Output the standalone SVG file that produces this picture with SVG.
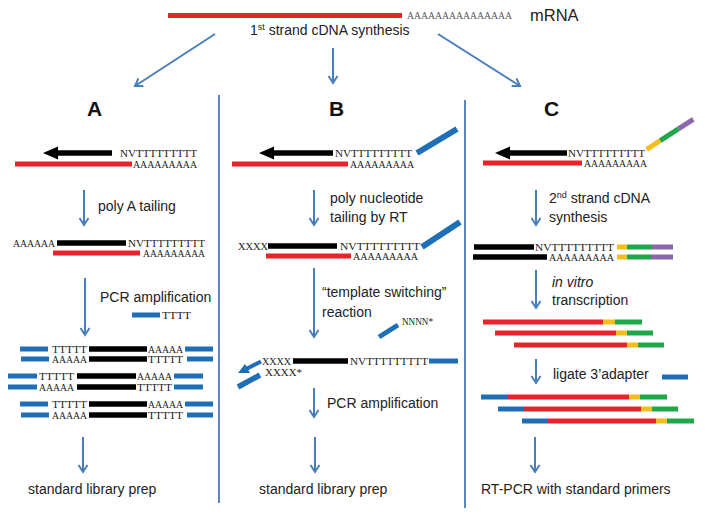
<svg xmlns="http://www.w3.org/2000/svg" width="705" height="520" viewBox="0 0 705 520">
<defs>
<style>
.seq{font-family:"Liberation Serif","Times New Roman",serif;font-size:10.5px;fill:#222}
.lbl{font-family:"Liberation Sans",Arial,sans-serif;font-size:14px;fill:#222}
.hd{font-family:"Liberation Sans",Arial,sans-serif;font-size:21px;font-weight:bold;fill:#111}
.r{stroke:#E8232A;stroke-width:5}
.k{stroke:#000;stroke-width:5.5}
.b{stroke:#1F6FB6;stroke-width:5}
.y{stroke:#F4BE1C;stroke-width:5}
.g{stroke:#1EA84A;stroke-width:5}
.p{stroke:#8A67AD;stroke-width:5}
.arr{stroke:#4A7EBB;stroke-width:2;fill:none;marker-end:url(#ah)}
.div{stroke:#5B86C0;stroke-width:2}
</style>
<marker id="ah" markerUnits="userSpaceOnUse" markerWidth="14" markerHeight="14" refX="8" refY="6" orient="auto">
<path d="M1,1.5 L8,6 L1,10.5" fill="none" stroke="#4A7EBB" stroke-width="2"/>
</marker>
</defs>
<rect width="705" height="520" fill="#fff"/>

<g id="mrna">
<line class="r" x1="168" y1="15.5" x2="402" y2="15.5"/>
<text class="seq" x="407" y="19" textLength="105" lengthAdjust="spacingAndGlyphs" style="fill:#555">AAAAAAAAAAAAAAA</text>
<text class="lbl" x="530" y="21" style="font-size:16.5px">mRNA</text>
<text class="lbl" x="250" y="35">1<tspan font-size="9" dy="-5">st</tspan><tspan dy="5"> strand cDNA synthesis</tspan></text>
</g>

<g id="connectors">
<line class="arr" x1="215" y1="34" x2="135" y2="86"/>
<line class="arr" x1="333" y1="48" x2="333" y2="83"/>
<line class="arr" x1="438" y1="34" x2="520" y2="86"/>
<line class="arr" x1="84" y1="190" x2="84" y2="225"/>
<line class="arr" x1="85" y1="278" x2="85" y2="335"/>
<line class="arr" x1="83" y1="437" x2="83" y2="472"/>
<line class="arr" x1="314" y1="190" x2="314" y2="225"/>
<line class="arr" x1="314" y1="268" x2="314" y2="337"/>
<line class="arr" x1="314" y1="388" x2="314" y2="417"/>
<line class="arr" x1="315" y1="437" x2="315" y2="472"/>
<line class="arr" x1="536" y1="190" x2="536" y2="225"/>
<line class="arr" x1="536" y1="270" x2="536" y2="308"/>
<line class="arr" x1="536" y1="359" x2="536" y2="383"/>
<line class="arr" x1="535" y1="437" x2="535" y2="472"/>
</g>

<g id="dividers">
<line class="div" x1="219" y1="95" x2="219" y2="503"/>
<line class="div" x1="465" y1="100" x2="465" y2="508"/>
</g>

<g id="panel-A">
<text class="hd" x="87" y="116">A</text>
<line class="k" x1="57" y1="153" x2="112" y2="153"/>
<polygon points="43,153 58,146.5 58,159.5" fill="#000"/>
<text class="seq" x="120" y="157" textLength="77" lengthAdjust="spacingAndGlyphs">NVTTTTTTTTT</text>
<line class="r" x1="15" y1="164" x2="132" y2="164"/>
<text class="seq" x="133" y="167.5" textLength="64" lengthAdjust="spacingAndGlyphs">AAAAAAAAA</text>
<text class="lbl" x="98" y="211">poly A tailing</text>
<text class="seq" x="13" y="246.5" textLength="42" lengthAdjust="spacingAndGlyphs">AAAAAA</text>
<line class="k" x1="57" y1="243" x2="126" y2="243"/>
<text class="seq" x="128" y="246.5" textLength="77" lengthAdjust="spacingAndGlyphs">NVTTTTTTTTT</text>
<line class="r" x1="53" y1="253" x2="140" y2="253"/>
<text class="seq" x="143" y="256.5" textLength="62" lengthAdjust="spacingAndGlyphs">AAAAAAAAA</text>
<text class="lbl" x="100" y="302">PCR amplification</text>
<line class="b" x1="132" y1="315" x2="160" y2="315"/>
<text class="seq" x="162" y="318.5" textLength="29" lengthAdjust="spacingAndGlyphs">TTTT</text>
<g id="A-pair1">
<line class="b" x1="20" y1="349" x2="48" y2="349"/><text class="seq" x="52" y="352.5" textLength="35" lengthAdjust="spacingAndGlyphs">TTTTT</text><line class="k" x1="89" y1="349" x2="147" y2="349"/><text class="seq" x="148" y="352.5" textLength="35" lengthAdjust="spacingAndGlyphs">AAAAA</text><line class="b" x1="185" y1="349" x2="213" y2="349"/>
<line class="b" x1="21" y1="359" x2="49" y2="359"/><text class="seq" x="52" y="362.5" textLength="35" lengthAdjust="spacingAndGlyphs">AAAAA</text><line class="k" x1="89" y1="359" x2="147" y2="359"/><text class="seq" x="148" y="362.5" textLength="35" lengthAdjust="spacingAndGlyphs">TTTTT</text><line class="b" x1="187" y1="359" x2="213" y2="359"/>
</g>
<g id="A-pair2">
<line class="b" x1="8" y1="376" x2="37" y2="376"/><text class="seq" x="39" y="379.5" textLength="35" lengthAdjust="spacingAndGlyphs">TTTTT</text><line class="k" x1="77" y1="376" x2="136" y2="376"/><text class="seq" x="137" y="379.5" textLength="35" lengthAdjust="spacingAndGlyphs">AAAAA</text><line class="b" x1="174" y1="376" x2="203" y2="376"/>
<line class="b" x1="8" y1="387" x2="37" y2="387"/><text class="seq" x="39" y="390.5" textLength="35" lengthAdjust="spacingAndGlyphs">AAAAA</text><line class="k" x1="77" y1="387" x2="136" y2="387"/><text class="seq" x="137" y="390.5" textLength="35" lengthAdjust="spacingAndGlyphs">TTTTT</text><line class="b" x1="174" y1="387" x2="203" y2="387"/>
</g>
<g id="A-pair3">
<line class="b" x1="20" y1="404" x2="48" y2="404"/><text class="seq" x="52" y="407.5" textLength="35" lengthAdjust="spacingAndGlyphs">TTTTT</text><line class="k" x1="89" y1="404" x2="147" y2="404"/><text class="seq" x="148" y="407.5" textLength="35" lengthAdjust="spacingAndGlyphs">AAAAA</text><line class="b" x1="185" y1="404" x2="213" y2="404"/>
<line class="b" x1="21" y1="415" x2="49" y2="415"/><text class="seq" x="52" y="418.5" textLength="35" lengthAdjust="spacingAndGlyphs">AAAAA</text><line class="k" x1="89" y1="415" x2="147" y2="415"/><text class="seq" x="148" y="418.5" textLength="35" lengthAdjust="spacingAndGlyphs">TTTTT</text><line class="b" x1="187" y1="415" x2="213" y2="415"/>
</g>
<text class="lbl" x="28" y="494">standard library prep</text>
</g>

<g id="panel-B">
<text class="hd" x="329" y="116">B</text>
<line class="k" x1="273" y1="153" x2="333" y2="153"/>
<polygon points="259,153 274,146.5 274,159.5" fill="#000"/>
<text class="seq" x="335" y="157" textLength="77" lengthAdjust="spacingAndGlyphs">NVTTTTTTTTT</text>
<line class="b" x1="417" y1="153" x2="457" y2="129" style="stroke-width:6"/>
<line class="r" x1="232" y1="164" x2="348" y2="164"/>
<text class="seq" x="350" y="167.5" textLength="64" lengthAdjust="spacingAndGlyphs">AAAAAAAAA</text>
<text class="lbl" x="330" y="203">poly nucleotide</text>
<text class="lbl" x="330" y="222">tailing by RT</text>
<text class="seq" x="238" y="250" textLength="30" lengthAdjust="spacingAndGlyphs">XXXX</text>
<line class="k" x1="268" y1="246" x2="337" y2="246"/>
<text class="seq" x="340" y="250" textLength="80" lengthAdjust="spacingAndGlyphs">NVTTTTTTTTT</text>
<line class="b" x1="422" y1="247" x2="460" y2="222" style="stroke-width:6"/>
<line class="r" x1="266" y1="256" x2="351" y2="256"/>
<text class="seq" x="353" y="259.5" textLength="65" lengthAdjust="spacingAndGlyphs">AAAAAAAAA</text>
<text class="lbl" x="322" y="297">“template switching”</text>
<text class="lbl" x="322" y="317">reaction</text>
<line class="b" x1="379" y1="337" x2="398" y2="325"/>
<text class="seq" x="402" y="325" textLength="31" lengthAdjust="spacingAndGlyphs">NNNN*</text>
<text class="seq" x="262" y="364.5" textLength="29" lengthAdjust="spacingAndGlyphs">XXXX</text>
<line class="k" x1="293" y1="361" x2="348" y2="361"/>
<text class="seq" x="350" y="364.5" textLength="78" lengthAdjust="spacingAndGlyphs">NVTTTTTTTTT</text>
<line class="b" x1="429" y1="361" x2="458" y2="361"/>
<line class="b" x1="261" y1="361.5" x2="246" y2="369" style="stroke-width:4"/>
<polygon points="238,373 245,364 250,373" fill="#1F6FB6"/>
<text class="seq" x="265" y="376" textLength="37" lengthAdjust="spacingAndGlyphs">XXXX*</text>
<line class="b" x1="238" y1="387" x2="260" y2="375" style="stroke-width:5.5"/>
<text class="lbl" x="327" y="408">PCR amplification</text>
<text class="lbl" x="259" y="494">standard library prep</text>
</g>

<g id="panel-C">
<text class="hd" x="544" y="116">C</text>
<line class="k" x1="509" y1="153" x2="567" y2="153"/>
<polygon points="495,153 510,146.5 510,159.5" fill="#000"/>
<text class="seq" x="568" y="157" textLength="77" lengthAdjust="spacingAndGlyphs">NVTTTTTTTTT</text>
<line class="y" x1="646.7" y1="149.3" x2="660.2" y2="140.6"/>
<line class="g" x1="660.2" y1="140.6" x2="678.4" y2="128.9"/>
<line class="p" x1="678.4" y1="128.9" x2="693.3" y2="119.3"/>
<line class="r" x1="483" y1="163" x2="582" y2="163"/>
<text class="seq" x="584" y="166.5" textLength="63" lengthAdjust="spacingAndGlyphs">AAAAAAAAA</text>
<text class="lbl" x="549" y="203">2<tspan font-size="9" dy="-5">nd</tspan><tspan dy="5"> strand cDNA</tspan></text>
<text class="lbl" x="549" y="222">synthesis</text>
<line class="k" x1="474" y1="247" x2="534" y2="247"/>
<text class="seq" x="535" y="250.5" textLength="79" lengthAdjust="spacingAndGlyphs">NVTTTTTTTTT</text>
<line class="y" x1="617" y1="247" x2="627" y2="247"/><line class="g" x1="627" y1="247" x2="652" y2="247"/><line class="p" x1="652" y1="247" x2="673" y2="247"/>
<line class="k" x1="473" y1="257" x2="547" y2="257"/>
<text class="seq" x="549" y="260.5" textLength="65" lengthAdjust="spacingAndGlyphs">AAAAAAAAA</text>
<line class="y" x1="617" y1="257" x2="627" y2="257"/><line class="g" x1="627" y1="257" x2="651" y2="257"/><line class="p" x1="651" y1="257" x2="673" y2="257"/>
<text class="lbl" x="552" y="287" font-style="italic">in vitro</text>
<text class="lbl" x="552" y="305">transcription</text>
<line class="r" x1="483" y1="322" x2="603" y2="322"/><line class="y" x1="603" y1="322" x2="615" y2="322"/><line class="g" x1="615" y1="322" x2="642" y2="322"/>
<line class="r" x1="495" y1="333" x2="616" y2="333"/><line class="y" x1="616" y1="333" x2="627" y2="333"/><line class="g" x1="627" y1="333" x2="653" y2="333"/>
<line class="r" x1="514" y1="345" x2="627" y2="345"/><line class="y" x1="627" y1="345" x2="638" y2="345"/><line class="g" x1="638" y1="345" x2="664" y2="345"/>
<text class="lbl" x="553" y="379">ligate 3’adapter</text>
<line class="b" x1="662" y1="377" x2="688" y2="377"/>
<line class="b" x1="481" y1="397" x2="508" y2="397"/><line class="r" x1="508" y1="397" x2="629" y2="397"/><line class="y" x1="629" y1="397" x2="640" y2="397"/><line class="g" x1="640" y1="397" x2="667" y2="397"/>
<line class="b" x1="498" y1="409" x2="524" y2="409"/><line class="r" x1="524" y1="409" x2="641" y2="409"/><line class="y" x1="641" y1="409" x2="652" y2="409"/><line class="g" x1="652" y1="409" x2="678" y2="409"/>
<line class="b" x1="522" y1="421" x2="548" y2="421"/><line class="r" x1="548" y1="421" x2="656" y2="421"/><line class="y" x1="656" y1="421" x2="667" y2="421"/><line class="g" x1="667" y1="421" x2="694" y2="421"/>
<text class="lbl" x="481" y="494">RT-PCR with standard primers</text>
</g>
</svg>
